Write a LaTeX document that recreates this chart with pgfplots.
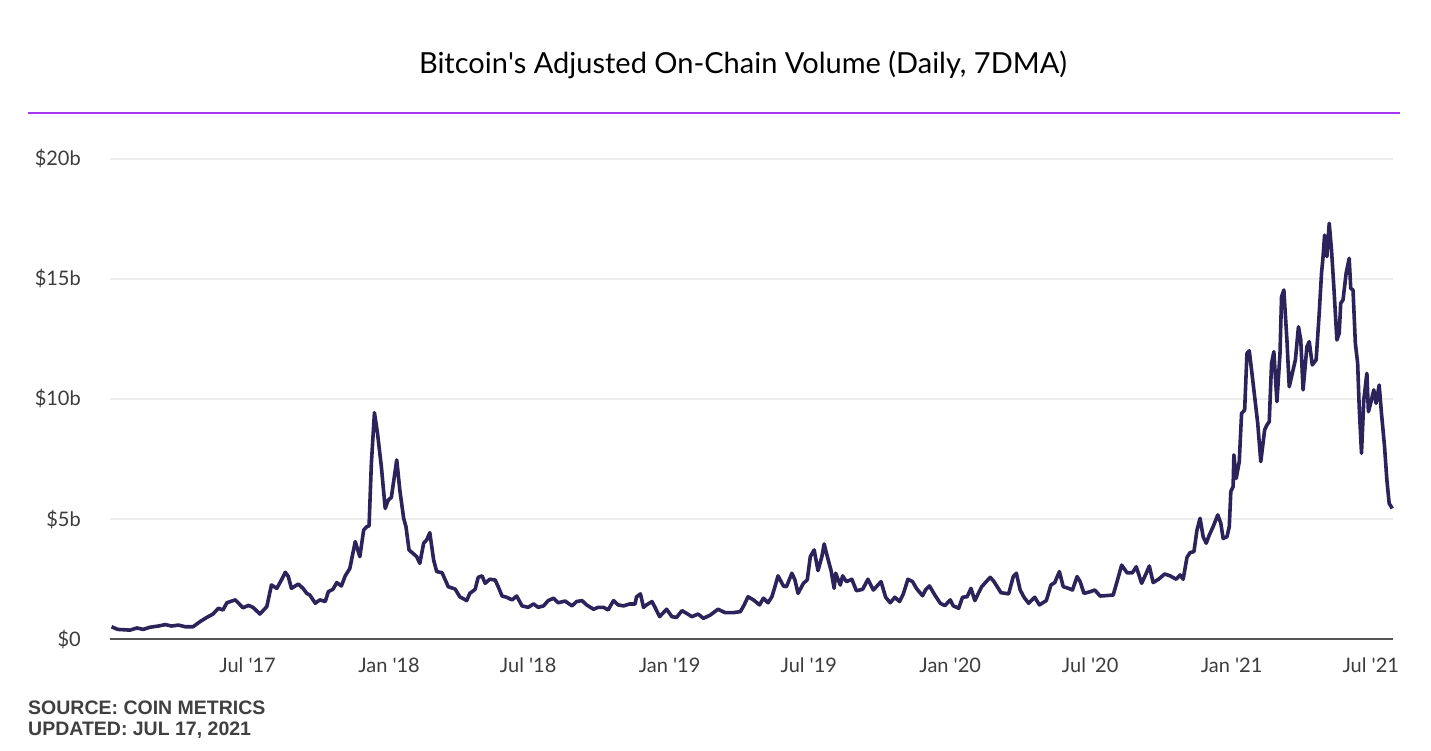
\documentclass[border=0pt]{standalone}
\usepackage{pgfplots}
\pgfplotsset{compat=1.18}
\usepackage{fontspec}
\setmainfont{Lato}
\newfontfamily\footfont{Liberation Sans}
\definecolor{linecol}{RGB}{43,35,90}
\definecolor{purp}{RGB}{165,55,240}
\definecolor{tickcol}{RGB}{60,60,60}
\definecolor{axiscol}{RGB}{85,85,85}
\begin{document}
\begin{tikzpicture}[x=1pt,y=1pt]
\useasboundingbox (0,0) rectangle (1431,751);
\fill[white] (0,0) rectangle (1431,751);
\node[anchor=center] at (743,686) {\fontsize{29}{33}\selectfont Bitcoin\textquotesingle s Adjusted On-Chain Volume (Daily, 7DMA)};
\draw[purp, line width=1.6pt] (28,638) -- (1400,638);
\begin{axis}[
  at={(110pt,112pt)}, anchor=south west,
  scale only axis, width=1283pt, height=480pt,
  xmin=0, xmax=1669, ymin=0, ymax=20,
  axis x line*=bottom, axis y line*=left,
  x axis line style={axiscol, line width=2pt},
  y axis line style={draw=none},
  major tick length=0pt,
  ymajorgrids, grid style={color=black!7, line width=1.5pt},
  ytick={0,5,10,15,20},
  yticklabels={\$0,\$5b,\$10b,\$15b,\$20b},
  xtick={179,363,544,728,909,1093,1275,1459,1640},
  xticklabels={Jul \textquotesingle 17,Jan \textquotesingle 18,Jul \textquotesingle 18,Jan \textquotesingle 19,Jul \textquotesingle 19,Jan \textquotesingle 20,Jul \textquotesingle 20,Jan \textquotesingle 21,Jul \textquotesingle 21},
  /pgf/number format/assume math mode=true,
  tick label style={font=\fontsize{20}{22}\selectfont, text=tickcol},
  yticklabel style={anchor=east, inner sep=0pt, xshift=-29pt},
  xticklabel style={anchor=north, inner sep=0pt, yshift=-19pt},
  clip=false,
]
\addplot[linecol, line width=3.6pt, line join=round] coordinates {
(2,0.51)(10,0.40)(26,0.37)(35,0.46)(43,0.40)(52,0.49)(63,0.54)(72,0.60)(80,0.54)(89,0.58)
(98,0.51)(108,0.51)(117,0.72)(126,0.90)(134,1.04)(141,1.28)(147,1.21)(152,1.51)(163,1.63)(173,1.30)
(180,1.40)(186,1.32)(195,1.04)(204,1.35)(210,2.25)(217,2.11)(223,2.46)(228,2.78)(232,2.60)(236,2.11)
(245,2.29)(251,2.11)(256,1.90)(260,1.83)(267,1.49)(273,1.63)(280,1.56)(284,1.97)(290,2.07)(295,2.35)
(301,2.21)(306,2.63)(312,2.94)(319,4.06)(325,3.43)(330,4.54)(334,4.68)(337,4.71)(340,7.32)(344,9.43)
(348,8.57)(353,7.18)(358,5.44)(362,5.79)(366,5.90)(373,7.46)(377,6.21)(382,5.03)(385,4.68)(389,3.71)
(399,3.43)(403,3.15)(408,3.99)(412,4.13)(416,4.43)(421,3.29)(425,2.81)(432,2.76)(440,2.18)(449,2.08)
(455,1.76)(464,1.60)(468,1.90)(475,2.07)(479,2.57)(484,2.63)(488,2.32)(494,2.49)(501,2.46)(505,2.18)
(510,1.79)(516,1.74)(523,1.63)(529,1.79)(536,1.38)(544,1.32)(551,1.46)(557,1.32)(564,1.38)(570,1.60)
(577,1.70)(583,1.51)(592,1.58)(601,1.38)(607,1.56)(614,1.60)(620,1.42)(629,1.24)(635,1.32)(642,1.32)
(648,1.21)(655,1.60)(661,1.42)(668,1.38)(676,1.46)(683,1.46)(685,1.76)(690,1.88)(694,1.32)(698,1.42)
(705,1.56)(709,1.32)(715,0.93)(724,1.24)(731,0.93)(737,0.90)(744,1.18)(750,1.07)(757,0.93)(765,1.04)
(772,0.86)(781,1.00)(791,1.24)(800,1.10)(811,1.10)(820,1.14)(825,1.42)(830,1.76)(837,1.63)(845,1.42)
(850,1.70)(856,1.51)(861,1.76)(865,2.18)(869,2.63)(876,2.21)(880,2.18)(887,2.74)(891,2.46)(895,1.90)
(902,2.32)(907,2.46)(911,3.43)(916,3.71)(921,2.85)(926,3.43)(929,3.96)(932,3.57)(938,2.85)(942,2.11)
(944,2.74)(950,2.25)(953,2.63)(958,2.39)(965,2.49)(971,2.01)(979,2.07)(986,2.49)(993,2.04)(1003,2.39)
(1009,1.74)(1015,1.51)(1021,1.74)(1027,1.56)(1032,1.88)(1038,2.49)(1044,2.39)(1049,2.11)(1057,1.80)(1061,2.05)
(1066,2.21)(1073,1.83)(1080,1.49)(1086,1.39)(1093,1.63)(1097,1.38)(1104,1.28)(1109,1.74)(1115,1.76)(1120,2.11)
(1125,1.60)(1134,2.18)(1141,2.43)(1145,2.57)(1150,2.39)(1159,1.93)(1169,1.88)(1175,2.60)(1179,2.74)(1184,2.04)
(1189,1.74)(1195,1.49)(1203,1.74)(1209,1.42)(1218,1.60)(1224,2.25)(1229,2.35)(1235,2.81)(1240,2.18)(1247,2.11)
(1252,2.04)(1258,2.60)(1262,2.39)(1267,1.90)(1275,1.97)(1281,2.04)(1288,1.79)(1305,1.83)(1310,2.39)(1316,3.08)
(1323,2.76)(1330,2.76)(1335,3.01)(1342,2.32)(1348,2.74)(1352,3.04)(1357,2.35)(1364,2.49)(1372,2.71)(1379,2.63)
(1387,2.49)(1392,2.67)(1396,2.49)(1401,3.40)(1405,3.60)(1410,3.64)(1414,4.54)(1418,5.03)(1422,4.26)(1426,3.99)
(1430,4.33)(1435,4.68)(1441,5.17)(1445,4.82)(1448,4.19)(1453,4.26)(1456,4.68)(1458,6.14)(1461,6.35)(1462,7.67)
(1465,6.69)(1467,7.04)(1469,7.39)(1472,9.40)(1476,9.54)(1479,11.90)(1482,12.01)(1485,11.21)(1490,9.82)(1493,8.99)
(1497,7.39)(1502,8.71)(1505,8.92)(1508,9.05)(1511,11.49)(1514,11.97)(1518,9.89)(1522,11.90)(1524,14.26)(1527,14.54)
(1531,12.45)(1534,10.51)(1539,11.21)(1542,11.63)(1546,13.01)(1549,12.46)(1552,10.38)(1557,12.18)(1560,12.39)(1564,11.42)
(1569,11.63)(1573,13.57)(1576,15.24)(1578,15.93)(1580,16.83)(1583,15.93)(1586,17.32)(1589,16.21)(1592,14.68)(1596,12.46)
(1599,12.74)(1601,13.99)(1604,14.13)(1608,15.24)(1612,15.86)(1614,14.61)(1617,14.54)(1620,12.32)(1623,11.49)(1625,9.68)
(1628,7.74)(1631,9.96)(1635,11.07)(1637,9.47)(1641,9.96)(1644,10.38)(1647,9.82)(1651,10.58)(1654,9.40)(1658,8.01)
(1661,6.63)(1664,5.65)(1668,5.44)
};
\end{axis}
\node[anchor=west, text=black!75, inner sep=0pt] at (28,43) {\footfont\bfseries\fontsize{19.5}{22}\selectfont SOURCE: COIN METRICS};
\node[anchor=west, text=black!75, inner sep=0pt] at (28,21) {\footfont\bfseries\fontsize{19.5}{22}\selectfont UPDATED: JUL 17, 2021};
\end{tikzpicture}
\end{document}
